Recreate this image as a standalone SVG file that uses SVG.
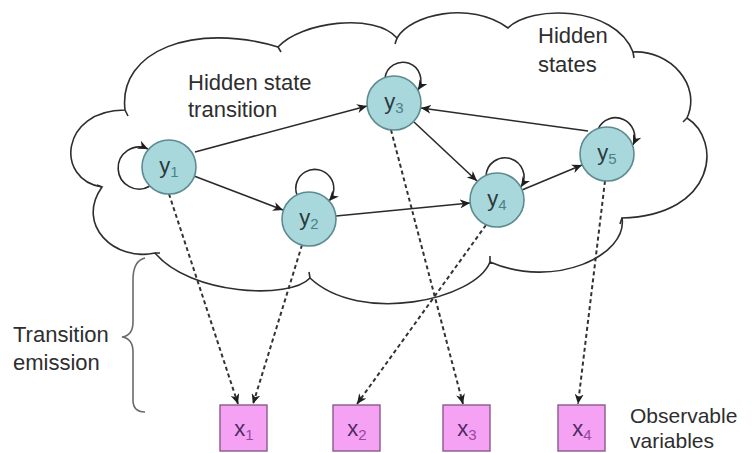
<svg xmlns="http://www.w3.org/2000/svg" width="752" height="453" viewBox="0 0 752 453">
  <style>
    .lbl { font-family: "Liberation Sans", Arial, sans-serif; font-size: 22px; fill: #2e2e2e; }
    .small { font-size: 21px; }
    .cloud { fill: #ffffff; stroke: #2e2e2e; stroke-width: 1.6; }
    .tail { fill: none; stroke: #2e2e2e; stroke-width: 1.6; }
    .brace { fill: none; stroke: #6a6a6a; stroke-width: 1.6; }
    .edge { fill: none; stroke: #2a2a2a; stroke-width: 1.6; marker-end: url(#arrow); }
    .emit { fill: none; stroke: #333333; stroke-width: 2; stroke-dasharray: 4 3; marker-end: url(#arrow); }
    .state circle { fill: #a9d8dc; stroke: #5e8b90; stroke-width: 1.6; }
    .state text { font-family: "Liberation Sans", Arial, sans-serif; font-size: 22px; fill: #2c3a3e; text-anchor: middle; }
    .state .sub { font-size: 15px; fill: #4c7f87; }
    .obs rect { fill: #f5a2f5; stroke: #8a5a8a; stroke-width: 1.4; }
    .obs text { font-family: "Liberation Sans", Arial, sans-serif; font-size: 22px; fill: #4e2a5e; text-anchor: middle; }
    .obs .sub { font-size: 15px; fill: #9a45a0; }
  </style>
  <defs>
    <marker id="arrow" markerUnits="userSpaceOnUse" markerWidth="11" markerHeight="9" refX="10" refY="4.5" orient="auto">
      <path d="M0,0 L10,4.5 L0,9 L3,4.5 z" fill="#1e1e1e"/>
    </marker>
  </defs>

  <rect width="752" height="453" fill="#ffffff"/>

  <!-- cloud enclosing the hidden states -->
  <path class="cloud" d="M125,110 C118,50 195,22 278,47 C300,22 375,12 397,38 C410,15 470,0 508,28 C530,5 615,5 633,52 C670,50 702,85 687,118 C722,140 717,215 622,218 C628,255 555,290 490,262 C475,300 360,325 310,278 C290,300 190,295 155,253 C115,262 75,225 102,187 C55,180 60,110 125,110 Z"/>
  <!-- short overshoots where the cloud bumps meet -->
  <path class="tail" d="M278,47 L281,52 M397,38 L395,44 M633,52 L634,58 M687,118 L683,122 M622,218 L620,224 M490,262 L490,256 M310,278 L309,272 M155,253 L160,253 M102,187 L97,185 M125,110 L128,116"/>

  <!-- brace for the emission step -->
  <path class="brace" d="M145,258 C136,260 133,268 133,280 L133,322 C133,331 129,336 122,337 C129,338 133,343 133,352 L133,400 C133,408 137,412 145,412"/>

  <!-- annotations -->
  <text class="lbl" x="188" y="90">Hidden state</text>
  <text class="lbl" x="188" y="117">transition</text>
  <text class="lbl" x="538" y="43">Hidden</text>
  <text class="lbl" x="538" y="72">states</text>
  <text class="lbl" x="13" y="342">Transition</text>
  <text class="lbl" x="13" y="370">emission</text>
  <text class="lbl small" x="630" y="423">Observable</text>
  <text class="lbl small" x="630" y="448">variables</text>

  <g id="connectors">
    <!-- state transitions -->
    <path class="edge" d="M195,152 L367,106"/>
    <path class="edge" d="M194,176 L283,210"/>
    <path class="edge" d="M336,216 L470,203"/>
    <path class="edge" d="M414,122 L477,181"/>
    <path class="edge" d="M522,190 L582,165"/>
    <path class="edge" d="M588,131 L421,108"/>
    <!-- self transitions -->
    <path class="edge" d="M150,186 A21,21 0 1 1 148,149"/>
    <path class="edge" d="M297,195 A19,19 0 1 1 329,201"/>
    <path class="edge" d="M385,78 A18,18 0 1 1 418,90"/>
    <path class="edge" d="M486,176 A19,19 0 1 1 521,187"/>
    <path class="edge" d="M598,129 A19,19 0 1 1 633,145"/>
    <!-- emissions -->
    <path class="emit" d="M169,194 L238,404"/>
    <path class="emit" d="M302,245 L253,404"/>
    <path class="emit" d="M391,130 L463,404"/>
    <path class="emit" d="M486,225 L357,404"/>
    <path class="emit" d="M605,181 L578,404"/>
  </g>

  <g id="y1" class="state"><circle cx="169" cy="167" r="27"/><text x="169" y="173">y<tspan class="sub" dy="4">1</tspan></text></g>
  <g id="y2" class="state"><circle cx="309" cy="219" r="27"/><text x="309" y="225">y<tspan class="sub" dy="4">2</tspan></text></g>
  <g id="y3" class="state"><circle cx="394" cy="103" r="27"/><text x="394" y="109">y<tspan class="sub" dy="4">3</tspan></text></g>
  <g id="y4" class="state"><circle cx="497" cy="200" r="27"/><text x="497" y="206">y<tspan class="sub" dy="4">4</tspan></text></g>
  <g id="y5" class="state"><circle cx="607" cy="154" r="27"/><text x="607" y="160">y<tspan class="sub" dy="4">5</tspan></text></g>

  <g id="x1" class="obs"><rect x="220" y="405" width="47" height="46"/><text x="244" y="436">x<tspan class="sub" dy="4">1</tspan></text></g>
  <g id="x2" class="obs"><rect x="333" y="405" width="47" height="46"/><text x="357" y="436">x<tspan class="sub" dy="4">2</tspan></text></g>
  <g id="x3" class="obs"><rect x="443" y="405" width="47" height="46"/><text x="467" y="436">x<tspan class="sub" dy="4">3</tspan></text></g>
  <g id="x4" class="obs"><rect x="558" y="405" width="47" height="46"/><text x="582" y="436">x<tspan class="sub" dy="4">4</tspan></text></g>
</svg>
